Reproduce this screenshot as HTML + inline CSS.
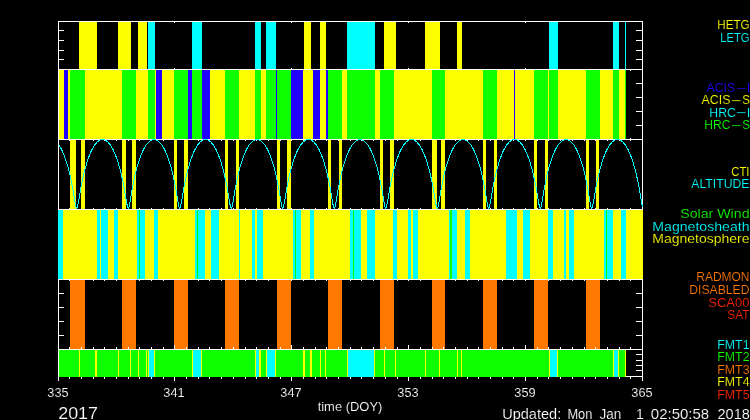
<!DOCTYPE html>
<html><head><meta charset="utf-8"><title>Chandra mission timeline</title>
<style>
html,body{margin:0;padding:0;background:#000;}
body{width:750px;height:420px;overflow:hidden;}
svg{display:block;font-family:"Liberation Sans",sans-serif;}
</style></head><body>
<svg width="750" height="420" viewBox="0 0 750 420">
<rect x="0" y="0" width="750" height="420" fill="#000"/>
<g shape-rendering="crispEdges">
<rect x="58" y="21" width="1" height="360" fill="#ffffff"/>
<rect x="642" y="21" width="1" height="360" fill="#ffffff"/>
<rect x="58" y="21" width="585" height="1" fill="#ffffff"/>
<rect x="58" y="69" width="585" height="1" fill="#ffffff"/>
<rect x="58" y="139" width="585" height="1" fill="#ffffff"/>
<rect x="58" y="209" width="585" height="1" fill="#ffffff"/>
<rect x="58" y="279" width="585" height="1" fill="#ffffff"/>
<rect x="58" y="349" width="585" height="1" fill="#ffffff"/>
<rect x="58" y="376" width="585" height="1" fill="#ffffff"/>
<rect x="59" y="30" width="5" height="1" fill="#ffffff"/>
<rect x="636" y="30" width="6" height="1" fill="#ffffff"/>
<rect x="59" y="40" width="5" height="1" fill="#ffffff"/>
<rect x="636" y="40" width="6" height="1" fill="#ffffff"/>
<rect x="59" y="50" width="5" height="1" fill="#ffffff"/>
<rect x="636" y="50" width="6" height="1" fill="#ffffff"/>
<rect x="59" y="59" width="5" height="1" fill="#ffffff"/>
<rect x="636" y="59" width="6" height="1" fill="#ffffff"/>
<rect x="636" y="83" width="6" height="1" fill="#ffffff"/>
<rect x="636" y="97" width="6" height="1" fill="#ffffff"/>
<rect x="636" y="111" width="6" height="1" fill="#ffffff"/>
<rect x="636" y="125" width="6" height="1" fill="#ffffff"/>
<rect x="59" y="293" width="5" height="1" fill="#ffffff"/>
<rect x="636" y="293" width="6" height="1" fill="#ffffff"/>
<rect x="59" y="307" width="5" height="1" fill="#ffffff"/>
<rect x="636" y="307" width="6" height="1" fill="#ffffff"/>
<rect x="59" y="321" width="5" height="1" fill="#ffffff"/>
<rect x="636" y="321" width="6" height="1" fill="#ffffff"/>
<rect x="59" y="335" width="5" height="1" fill="#ffffff"/>
<rect x="636" y="335" width="6" height="1" fill="#ffffff"/>
<rect x="636" y="354" width="6" height="1" fill="#ffffff"/>
<rect x="636" y="360" width="6" height="1" fill="#ffffff"/>
<rect x="636" y="365" width="6" height="1" fill="#ffffff"/>
<rect x="636" y="370" width="6" height="1" fill="#ffffff"/>
<rect x="174" y="22" width="1" height="1" fill="#ffffff"/>
<rect x="174" y="68" width="1" height="1" fill="#ffffff"/>
<rect x="291" y="22" width="1" height="1" fill="#ffffff"/>
<rect x="291" y="68" width="1" height="1" fill="#ffffff"/>
<rect x="408" y="22" width="1" height="1" fill="#ffffff"/>
<rect x="408" y="68" width="1" height="1" fill="#ffffff"/>
<rect x="525" y="22" width="1" height="1" fill="#ffffff"/>
<rect x="525" y="68" width="1" height="1" fill="#ffffff"/>
<rect x="69" y="70" width="1" height="1" fill="#ffffff"/>
<rect x="69" y="138" width="1" height="1" fill="#ffffff"/>
<rect x="69" y="140" width="1" height="1" fill="#ffffff"/>
<rect x="69" y="208" width="1" height="1" fill="#ffffff"/>
<rect x="69" y="280" width="1" height="1" fill="#ffffff"/>
<rect x="69" y="377" width="1" height="2" fill="#ffffff"/>
<rect x="81" y="70" width="1" height="1" fill="#ffffff"/>
<rect x="81" y="138" width="1" height="1" fill="#ffffff"/>
<rect x="81" y="140" width="1" height="1" fill="#ffffff"/>
<rect x="81" y="208" width="1" height="1" fill="#ffffff"/>
<rect x="81" y="280" width="1" height="1" fill="#ffffff"/>
<rect x="81" y="377" width="1" height="2" fill="#ffffff"/>
<rect x="93" y="70" width="1" height="1" fill="#ffffff"/>
<rect x="93" y="138" width="1" height="1" fill="#ffffff"/>
<rect x="93" y="140" width="1" height="1" fill="#ffffff"/>
<rect x="93" y="208" width="1" height="1" fill="#ffffff"/>
<rect x="93" y="280" width="1" height="1" fill="#ffffff"/>
<rect x="93" y="377" width="1" height="2" fill="#ffffff"/>
<rect x="104" y="70" width="1" height="1" fill="#ffffff"/>
<rect x="104" y="138" width="1" height="1" fill="#ffffff"/>
<rect x="104" y="140" width="1" height="1" fill="#ffffff"/>
<rect x="104" y="208" width="1" height="1" fill="#ffffff"/>
<rect x="104" y="280" width="1" height="1" fill="#ffffff"/>
<rect x="104" y="377" width="1" height="2" fill="#ffffff"/>
<rect x="116" y="70" width="1" height="1" fill="#ffffff"/>
<rect x="116" y="138" width="1" height="1" fill="#ffffff"/>
<rect x="116" y="140" width="1" height="1" fill="#ffffff"/>
<rect x="116" y="208" width="1" height="1" fill="#ffffff"/>
<rect x="116" y="280" width="1" height="1" fill="#ffffff"/>
<rect x="116" y="377" width="1" height="2" fill="#ffffff"/>
<rect x="128" y="70" width="1" height="1" fill="#ffffff"/>
<rect x="128" y="138" width="1" height="1" fill="#ffffff"/>
<rect x="128" y="140" width="1" height="1" fill="#ffffff"/>
<rect x="128" y="208" width="1" height="1" fill="#ffffff"/>
<rect x="128" y="280" width="1" height="1" fill="#ffffff"/>
<rect x="128" y="377" width="1" height="2" fill="#ffffff"/>
<rect x="139" y="70" width="1" height="1" fill="#ffffff"/>
<rect x="139" y="138" width="1" height="1" fill="#ffffff"/>
<rect x="139" y="140" width="1" height="1" fill="#ffffff"/>
<rect x="139" y="208" width="1" height="1" fill="#ffffff"/>
<rect x="139" y="280" width="1" height="1" fill="#ffffff"/>
<rect x="139" y="377" width="1" height="2" fill="#ffffff"/>
<rect x="151" y="70" width="1" height="1" fill="#ffffff"/>
<rect x="151" y="138" width="1" height="1" fill="#ffffff"/>
<rect x="151" y="140" width="1" height="1" fill="#ffffff"/>
<rect x="151" y="208" width="1" height="1" fill="#ffffff"/>
<rect x="151" y="280" width="1" height="1" fill="#ffffff"/>
<rect x="151" y="377" width="1" height="2" fill="#ffffff"/>
<rect x="163" y="70" width="1" height="1" fill="#ffffff"/>
<rect x="163" y="138" width="1" height="1" fill="#ffffff"/>
<rect x="163" y="140" width="1" height="1" fill="#ffffff"/>
<rect x="163" y="208" width="1" height="1" fill="#ffffff"/>
<rect x="163" y="280" width="1" height="1" fill="#ffffff"/>
<rect x="163" y="377" width="1" height="2" fill="#ffffff"/>
<rect x="174" y="70" width="1" height="1" fill="#ffffff"/>
<rect x="174" y="138" width="1" height="1" fill="#ffffff"/>
<rect x="174" y="140" width="1" height="1" fill="#ffffff"/>
<rect x="174" y="208" width="1" height="1" fill="#ffffff"/>
<rect x="174" y="280" width="1" height="1" fill="#ffffff"/>
<rect x="186" y="70" width="1" height="1" fill="#ffffff"/>
<rect x="186" y="138" width="1" height="1" fill="#ffffff"/>
<rect x="186" y="140" width="1" height="1" fill="#ffffff"/>
<rect x="186" y="208" width="1" height="1" fill="#ffffff"/>
<rect x="186" y="280" width="1" height="1" fill="#ffffff"/>
<rect x="186" y="377" width="1" height="2" fill="#ffffff"/>
<rect x="198" y="70" width="1" height="1" fill="#ffffff"/>
<rect x="198" y="138" width="1" height="1" fill="#ffffff"/>
<rect x="198" y="140" width="1" height="1" fill="#ffffff"/>
<rect x="198" y="208" width="1" height="1" fill="#ffffff"/>
<rect x="198" y="280" width="1" height="1" fill="#ffffff"/>
<rect x="198" y="377" width="1" height="2" fill="#ffffff"/>
<rect x="209" y="70" width="1" height="1" fill="#ffffff"/>
<rect x="209" y="138" width="1" height="1" fill="#ffffff"/>
<rect x="209" y="140" width="1" height="1" fill="#ffffff"/>
<rect x="209" y="208" width="1" height="1" fill="#ffffff"/>
<rect x="209" y="280" width="1" height="1" fill="#ffffff"/>
<rect x="209" y="377" width="1" height="2" fill="#ffffff"/>
<rect x="221" y="70" width="1" height="1" fill="#ffffff"/>
<rect x="221" y="138" width="1" height="1" fill="#ffffff"/>
<rect x="221" y="140" width="1" height="1" fill="#ffffff"/>
<rect x="221" y="208" width="1" height="1" fill="#ffffff"/>
<rect x="221" y="280" width="1" height="1" fill="#ffffff"/>
<rect x="221" y="377" width="1" height="2" fill="#ffffff"/>
<rect x="233" y="70" width="1" height="1" fill="#ffffff"/>
<rect x="233" y="138" width="1" height="1" fill="#ffffff"/>
<rect x="233" y="140" width="1" height="1" fill="#ffffff"/>
<rect x="233" y="208" width="1" height="1" fill="#ffffff"/>
<rect x="233" y="280" width="1" height="1" fill="#ffffff"/>
<rect x="233" y="377" width="1" height="2" fill="#ffffff"/>
<rect x="245" y="70" width="1" height="1" fill="#ffffff"/>
<rect x="245" y="138" width="1" height="1" fill="#ffffff"/>
<rect x="245" y="140" width="1" height="1" fill="#ffffff"/>
<rect x="245" y="208" width="1" height="1" fill="#ffffff"/>
<rect x="245" y="280" width="1" height="1" fill="#ffffff"/>
<rect x="245" y="377" width="1" height="2" fill="#ffffff"/>
<rect x="256" y="70" width="1" height="1" fill="#ffffff"/>
<rect x="256" y="138" width="1" height="1" fill="#ffffff"/>
<rect x="256" y="140" width="1" height="1" fill="#ffffff"/>
<rect x="256" y="208" width="1" height="1" fill="#ffffff"/>
<rect x="256" y="280" width="1" height="1" fill="#ffffff"/>
<rect x="256" y="377" width="1" height="2" fill="#ffffff"/>
<rect x="268" y="70" width="1" height="1" fill="#ffffff"/>
<rect x="268" y="138" width="1" height="1" fill="#ffffff"/>
<rect x="268" y="140" width="1" height="1" fill="#ffffff"/>
<rect x="268" y="208" width="1" height="1" fill="#ffffff"/>
<rect x="268" y="280" width="1" height="1" fill="#ffffff"/>
<rect x="268" y="377" width="1" height="2" fill="#ffffff"/>
<rect x="280" y="70" width="1" height="1" fill="#ffffff"/>
<rect x="280" y="138" width="1" height="1" fill="#ffffff"/>
<rect x="280" y="140" width="1" height="1" fill="#ffffff"/>
<rect x="280" y="208" width="1" height="1" fill="#ffffff"/>
<rect x="280" y="280" width="1" height="1" fill="#ffffff"/>
<rect x="280" y="377" width="1" height="2" fill="#ffffff"/>
<rect x="291" y="70" width="1" height="1" fill="#ffffff"/>
<rect x="291" y="138" width="1" height="1" fill="#ffffff"/>
<rect x="291" y="140" width="1" height="1" fill="#ffffff"/>
<rect x="291" y="208" width="1" height="1" fill="#ffffff"/>
<rect x="291" y="280" width="1" height="1" fill="#ffffff"/>
<rect x="303" y="70" width="1" height="1" fill="#ffffff"/>
<rect x="303" y="138" width="1" height="1" fill="#ffffff"/>
<rect x="303" y="140" width="1" height="1" fill="#ffffff"/>
<rect x="303" y="208" width="1" height="1" fill="#ffffff"/>
<rect x="303" y="280" width="1" height="1" fill="#ffffff"/>
<rect x="303" y="377" width="1" height="2" fill="#ffffff"/>
<rect x="315" y="70" width="1" height="1" fill="#ffffff"/>
<rect x="315" y="138" width="1" height="1" fill="#ffffff"/>
<rect x="315" y="140" width="1" height="1" fill="#ffffff"/>
<rect x="315" y="208" width="1" height="1" fill="#ffffff"/>
<rect x="315" y="280" width="1" height="1" fill="#ffffff"/>
<rect x="315" y="377" width="1" height="2" fill="#ffffff"/>
<rect x="326" y="70" width="1" height="1" fill="#ffffff"/>
<rect x="326" y="138" width="1" height="1" fill="#ffffff"/>
<rect x="326" y="140" width="1" height="1" fill="#ffffff"/>
<rect x="326" y="208" width="1" height="1" fill="#ffffff"/>
<rect x="326" y="280" width="1" height="1" fill="#ffffff"/>
<rect x="326" y="377" width="1" height="2" fill="#ffffff"/>
<rect x="338" y="70" width="1" height="1" fill="#ffffff"/>
<rect x="338" y="138" width="1" height="1" fill="#ffffff"/>
<rect x="338" y="140" width="1" height="1" fill="#ffffff"/>
<rect x="338" y="208" width="1" height="1" fill="#ffffff"/>
<rect x="338" y="280" width="1" height="1" fill="#ffffff"/>
<rect x="338" y="377" width="1" height="2" fill="#ffffff"/>
<rect x="350" y="70" width="1" height="1" fill="#ffffff"/>
<rect x="350" y="138" width="1" height="1" fill="#ffffff"/>
<rect x="350" y="140" width="1" height="1" fill="#ffffff"/>
<rect x="350" y="208" width="1" height="1" fill="#ffffff"/>
<rect x="350" y="280" width="1" height="1" fill="#ffffff"/>
<rect x="350" y="377" width="1" height="2" fill="#ffffff"/>
<rect x="361" y="70" width="1" height="1" fill="#ffffff"/>
<rect x="361" y="138" width="1" height="1" fill="#ffffff"/>
<rect x="361" y="140" width="1" height="1" fill="#ffffff"/>
<rect x="361" y="208" width="1" height="1" fill="#ffffff"/>
<rect x="361" y="280" width="1" height="1" fill="#ffffff"/>
<rect x="361" y="377" width="1" height="2" fill="#ffffff"/>
<rect x="373" y="70" width="1" height="1" fill="#ffffff"/>
<rect x="373" y="138" width="1" height="1" fill="#ffffff"/>
<rect x="373" y="140" width="1" height="1" fill="#ffffff"/>
<rect x="373" y="208" width="1" height="1" fill="#ffffff"/>
<rect x="373" y="280" width="1" height="1" fill="#ffffff"/>
<rect x="373" y="377" width="1" height="2" fill="#ffffff"/>
<rect x="385" y="70" width="1" height="1" fill="#ffffff"/>
<rect x="385" y="138" width="1" height="1" fill="#ffffff"/>
<rect x="385" y="140" width="1" height="1" fill="#ffffff"/>
<rect x="385" y="208" width="1" height="1" fill="#ffffff"/>
<rect x="385" y="280" width="1" height="1" fill="#ffffff"/>
<rect x="385" y="377" width="1" height="2" fill="#ffffff"/>
<rect x="397" y="70" width="1" height="1" fill="#ffffff"/>
<rect x="397" y="138" width="1" height="1" fill="#ffffff"/>
<rect x="397" y="140" width="1" height="1" fill="#ffffff"/>
<rect x="397" y="208" width="1" height="1" fill="#ffffff"/>
<rect x="397" y="280" width="1" height="1" fill="#ffffff"/>
<rect x="397" y="377" width="1" height="2" fill="#ffffff"/>
<rect x="408" y="70" width="1" height="1" fill="#ffffff"/>
<rect x="408" y="138" width="1" height="1" fill="#ffffff"/>
<rect x="408" y="140" width="1" height="1" fill="#ffffff"/>
<rect x="408" y="208" width="1" height="1" fill="#ffffff"/>
<rect x="408" y="280" width="1" height="1" fill="#ffffff"/>
<rect x="420" y="70" width="1" height="1" fill="#ffffff"/>
<rect x="420" y="138" width="1" height="1" fill="#ffffff"/>
<rect x="420" y="140" width="1" height="1" fill="#ffffff"/>
<rect x="420" y="208" width="1" height="1" fill="#ffffff"/>
<rect x="420" y="280" width="1" height="1" fill="#ffffff"/>
<rect x="420" y="377" width="1" height="2" fill="#ffffff"/>
<rect x="432" y="70" width="1" height="1" fill="#ffffff"/>
<rect x="432" y="138" width="1" height="1" fill="#ffffff"/>
<rect x="432" y="140" width="1" height="1" fill="#ffffff"/>
<rect x="432" y="208" width="1" height="1" fill="#ffffff"/>
<rect x="432" y="280" width="1" height="1" fill="#ffffff"/>
<rect x="432" y="377" width="1" height="2" fill="#ffffff"/>
<rect x="443" y="70" width="1" height="1" fill="#ffffff"/>
<rect x="443" y="138" width="1" height="1" fill="#ffffff"/>
<rect x="443" y="140" width="1" height="1" fill="#ffffff"/>
<rect x="443" y="208" width="1" height="1" fill="#ffffff"/>
<rect x="443" y="280" width="1" height="1" fill="#ffffff"/>
<rect x="443" y="377" width="1" height="2" fill="#ffffff"/>
<rect x="455" y="70" width="1" height="1" fill="#ffffff"/>
<rect x="455" y="138" width="1" height="1" fill="#ffffff"/>
<rect x="455" y="140" width="1" height="1" fill="#ffffff"/>
<rect x="455" y="208" width="1" height="1" fill="#ffffff"/>
<rect x="455" y="280" width="1" height="1" fill="#ffffff"/>
<rect x="455" y="377" width="1" height="2" fill="#ffffff"/>
<rect x="467" y="70" width="1" height="1" fill="#ffffff"/>
<rect x="467" y="138" width="1" height="1" fill="#ffffff"/>
<rect x="467" y="140" width="1" height="1" fill="#ffffff"/>
<rect x="467" y="208" width="1" height="1" fill="#ffffff"/>
<rect x="467" y="280" width="1" height="1" fill="#ffffff"/>
<rect x="467" y="377" width="1" height="2" fill="#ffffff"/>
<rect x="478" y="70" width="1" height="1" fill="#ffffff"/>
<rect x="478" y="138" width="1" height="1" fill="#ffffff"/>
<rect x="478" y="140" width="1" height="1" fill="#ffffff"/>
<rect x="478" y="208" width="1" height="1" fill="#ffffff"/>
<rect x="478" y="280" width="1" height="1" fill="#ffffff"/>
<rect x="478" y="377" width="1" height="2" fill="#ffffff"/>
<rect x="490" y="70" width="1" height="1" fill="#ffffff"/>
<rect x="490" y="138" width="1" height="1" fill="#ffffff"/>
<rect x="490" y="140" width="1" height="1" fill="#ffffff"/>
<rect x="490" y="208" width="1" height="1" fill="#ffffff"/>
<rect x="490" y="280" width="1" height="1" fill="#ffffff"/>
<rect x="490" y="377" width="1" height="2" fill="#ffffff"/>
<rect x="502" y="70" width="1" height="1" fill="#ffffff"/>
<rect x="502" y="138" width="1" height="1" fill="#ffffff"/>
<rect x="502" y="140" width="1" height="1" fill="#ffffff"/>
<rect x="502" y="208" width="1" height="1" fill="#ffffff"/>
<rect x="502" y="280" width="1" height="1" fill="#ffffff"/>
<rect x="502" y="377" width="1" height="2" fill="#ffffff"/>
<rect x="513" y="70" width="1" height="1" fill="#ffffff"/>
<rect x="513" y="138" width="1" height="1" fill="#ffffff"/>
<rect x="513" y="140" width="1" height="1" fill="#ffffff"/>
<rect x="513" y="208" width="1" height="1" fill="#ffffff"/>
<rect x="513" y="280" width="1" height="1" fill="#ffffff"/>
<rect x="513" y="377" width="1" height="2" fill="#ffffff"/>
<rect x="525" y="70" width="1" height="1" fill="#ffffff"/>
<rect x="525" y="138" width="1" height="1" fill="#ffffff"/>
<rect x="525" y="140" width="1" height="1" fill="#ffffff"/>
<rect x="525" y="208" width="1" height="1" fill="#ffffff"/>
<rect x="525" y="280" width="1" height="1" fill="#ffffff"/>
<rect x="537" y="70" width="1" height="1" fill="#ffffff"/>
<rect x="537" y="138" width="1" height="1" fill="#ffffff"/>
<rect x="537" y="140" width="1" height="1" fill="#ffffff"/>
<rect x="537" y="208" width="1" height="1" fill="#ffffff"/>
<rect x="537" y="280" width="1" height="1" fill="#ffffff"/>
<rect x="537" y="377" width="1" height="2" fill="#ffffff"/>
<rect x="548" y="70" width="1" height="1" fill="#ffffff"/>
<rect x="548" y="138" width="1" height="1" fill="#ffffff"/>
<rect x="548" y="140" width="1" height="1" fill="#ffffff"/>
<rect x="548" y="208" width="1" height="1" fill="#ffffff"/>
<rect x="548" y="280" width="1" height="1" fill="#ffffff"/>
<rect x="548" y="377" width="1" height="2" fill="#ffffff"/>
<rect x="560" y="70" width="1" height="1" fill="#ffffff"/>
<rect x="560" y="138" width="1" height="1" fill="#ffffff"/>
<rect x="560" y="140" width="1" height="1" fill="#ffffff"/>
<rect x="560" y="208" width="1" height="1" fill="#ffffff"/>
<rect x="560" y="280" width="1" height="1" fill="#ffffff"/>
<rect x="560" y="377" width="1" height="2" fill="#ffffff"/>
<rect x="572" y="70" width="1" height="1" fill="#ffffff"/>
<rect x="572" y="138" width="1" height="1" fill="#ffffff"/>
<rect x="572" y="140" width="1" height="1" fill="#ffffff"/>
<rect x="572" y="208" width="1" height="1" fill="#ffffff"/>
<rect x="572" y="280" width="1" height="1" fill="#ffffff"/>
<rect x="572" y="377" width="1" height="2" fill="#ffffff"/>
<rect x="584" y="70" width="1" height="1" fill="#ffffff"/>
<rect x="584" y="138" width="1" height="1" fill="#ffffff"/>
<rect x="584" y="140" width="1" height="1" fill="#ffffff"/>
<rect x="584" y="208" width="1" height="1" fill="#ffffff"/>
<rect x="584" y="280" width="1" height="1" fill="#ffffff"/>
<rect x="584" y="377" width="1" height="2" fill="#ffffff"/>
<rect x="595" y="70" width="1" height="1" fill="#ffffff"/>
<rect x="595" y="138" width="1" height="1" fill="#ffffff"/>
<rect x="595" y="140" width="1" height="1" fill="#ffffff"/>
<rect x="595" y="208" width="1" height="1" fill="#ffffff"/>
<rect x="595" y="280" width="1" height="1" fill="#ffffff"/>
<rect x="595" y="377" width="1" height="2" fill="#ffffff"/>
<rect x="607" y="70" width="1" height="1" fill="#ffffff"/>
<rect x="607" y="138" width="1" height="1" fill="#ffffff"/>
<rect x="607" y="140" width="1" height="1" fill="#ffffff"/>
<rect x="607" y="208" width="1" height="1" fill="#ffffff"/>
<rect x="607" y="280" width="1" height="1" fill="#ffffff"/>
<rect x="607" y="377" width="1" height="2" fill="#ffffff"/>
<rect x="619" y="70" width="1" height="1" fill="#ffffff"/>
<rect x="619" y="138" width="1" height="1" fill="#ffffff"/>
<rect x="619" y="140" width="1" height="1" fill="#ffffff"/>
<rect x="619" y="208" width="1" height="1" fill="#ffffff"/>
<rect x="619" y="280" width="1" height="1" fill="#ffffff"/>
<rect x="619" y="377" width="1" height="2" fill="#ffffff"/>
<rect x="630" y="70" width="1" height="1" fill="#ffffff"/>
<rect x="630" y="138" width="1" height="1" fill="#ffffff"/>
<rect x="630" y="140" width="1" height="1" fill="#ffffff"/>
<rect x="630" y="208" width="1" height="1" fill="#ffffff"/>
<rect x="630" y="280" width="1" height="1" fill="#ffffff"/>
<rect x="630" y="377" width="1" height="2" fill="#ffffff"/>
<rect x="174" y="377" width="1" height="4" fill="#ffffff"/>
<rect x="291" y="377" width="1" height="4" fill="#ffffff"/>
<rect x="408" y="377" width="1" height="4" fill="#ffffff"/>
<rect x="525" y="377" width="1" height="4" fill="#ffffff"/>
<rect x="79" y="22" width="18" height="47" fill="#fcff00"/>
<rect x="118" y="22" width="13" height="47" fill="#fcff00"/>
<rect x="138" y="22" width="9" height="47" fill="#fcff00"/>
<rect x="304" y="22" width="7" height="47" fill="#fcff00"/>
<rect x="320" y="22" width="6" height="47" fill="#fcff00"/>
<rect x="384" y="22" width="12" height="47" fill="#fcff00"/>
<rect x="425" y="22" width="15" height="47" fill="#fcff00"/>
<rect x="457" y="22" width="5" height="47" fill="#fcff00"/>
<rect x="148" y="22" width="7" height="47" fill="#00ffff"/>
<rect x="192" y="22" width="10" height="47" fill="#00ffff"/>
<rect x="255" y="22" width="6" height="47" fill="#00ffff"/>
<rect x="266" y="22" width="10" height="47" fill="#00ffff"/>
<rect x="347" y="22" width="28" height="47" fill="#00ffff"/>
<rect x="549" y="22" width="9" height="47" fill="#00ffff"/>
<rect x="613" y="22" width="6" height="47" fill="#00ffff"/>
<rect x="625" y="22" width="1" height="47" fill="#00ffff"/>
<rect x="59" y="70" width="5" height="69" fill="#fcff00"/>
<rect x="64" y="70" width="4" height="69" fill="#2200ff"/>
<rect x="68" y="70" width="2" height="69" fill="#fcff00"/>
<rect x="70" y="70" width="15" height="69" fill="#10ff00"/>
<rect x="85" y="70" width="37" height="69" fill="#fcff00"/>
<rect x="122" y="70" width="14" height="69" fill="#10ff00"/>
<rect x="136" y="70" width="12" height="69" fill="#fcff00"/>
<rect x="148" y="70" width="7" height="69" fill="#10ff00"/>
<rect x="155" y="70" width="1" height="69" fill="#fcff00"/>
<rect x="156" y="70" width="6" height="69" fill="#2200ff"/>
<rect x="162" y="70" width="12" height="69" fill="#fcff00"/>
<rect x="174" y="70" width="14" height="69" fill="#10ff00"/>
<rect x="188" y="70" width="4" height="69" fill="#2200ff"/>
<rect x="192" y="70" width="10" height="69" fill="#10ff00"/>
<rect x="202" y="70" width="8" height="69" fill="#2200ff"/>
<rect x="210" y="70" width="15" height="69" fill="#fcff00"/>
<rect x="225" y="70" width="14" height="69" fill="#10ff00"/>
<rect x="239" y="70" width="16" height="69" fill="#fcff00"/>
<rect x="255" y="70" width="6" height="69" fill="#10ff00"/>
<rect x="261" y="70" width="5" height="69" fill="#fcff00"/>
<rect x="266" y="70" width="10" height="69" fill="#10ff00"/>
<rect x="276" y="70" width="1" height="69" fill="#2200ff"/>
<rect x="277" y="70" width="14" height="69" fill="#10ff00"/>
<rect x="291" y="70" width="12" height="69" fill="#2200ff"/>
<rect x="303" y="70" width="10" height="69" fill="#fcff00"/>
<rect x="313" y="70" width="7" height="69" fill="#2200ff"/>
<rect x="320" y="70" width="6" height="69" fill="#fcff00"/>
<rect x="326" y="70" width="2" height="69" fill="#2200ff"/>
<rect x="328" y="70" width="14" height="69" fill="#10ff00"/>
<rect x="342" y="70" width="5" height="69" fill="#fcff00"/>
<rect x="347" y="70" width="28" height="69" fill="#10ff00"/>
<rect x="375" y="70" width="5" height="69" fill="#fcff00"/>
<rect x="380" y="70" width="14" height="69" fill="#10ff00"/>
<rect x="394" y="70" width="38" height="69" fill="#fcff00"/>
<rect x="432" y="70" width="13" height="69" fill="#10ff00"/>
<rect x="445" y="70" width="38" height="69" fill="#fcff00"/>
<rect x="483" y="70" width="14" height="69" fill="#10ff00"/>
<rect x="497" y="70" width="17" height="69" fill="#fcff00"/>
<rect x="514" y="70" width="1" height="69" fill="#2200ff"/>
<rect x="515" y="70" width="19" height="69" fill="#fcff00"/>
<rect x="534" y="70" width="14" height="69" fill="#10ff00"/>
<rect x="548" y="70" width="1" height="69" fill="#fcff00"/>
<rect x="549" y="70" width="9" height="69" fill="#10ff00"/>
<rect x="558" y="70" width="28" height="69" fill="#fcff00"/>
<rect x="586" y="70" width="14" height="69" fill="#10ff00"/>
<rect x="600" y="70" width="13" height="69" fill="#fcff00"/>
<rect x="613" y="70" width="6" height="69" fill="#10ff00"/>
<rect x="619" y="70" width="6" height="69" fill="#fcff00"/>
<rect x="625" y="70" width="1" height="69" fill="#10ff00"/>
<rect x="70" y="140" width="6" height="69" fill="#fcff00"/>
<rect x="81" y="140" width="4" height="69" fill="#fcff00"/>
<rect x="122" y="140" width="4" height="69" fill="#fcff00"/>
<rect x="132" y="140" width="4" height="69" fill="#fcff00"/>
<rect x="174" y="140" width="3" height="69" fill="#fcff00"/>
<rect x="184" y="140" width="4" height="69" fill="#fcff00"/>
<rect x="225" y="140" width="3" height="69" fill="#fcff00"/>
<rect x="236" y="140" width="3" height="69" fill="#fcff00"/>
<rect x="277" y="140" width="3" height="69" fill="#fcff00"/>
<rect x="287" y="140" width="4" height="69" fill="#fcff00"/>
<rect x="328" y="140" width="3" height="69" fill="#fcff00"/>
<rect x="339" y="140" width="3" height="69" fill="#fcff00"/>
<rect x="380" y="140" width="3" height="69" fill="#fcff00"/>
<rect x="390" y="140" width="4" height="69" fill="#fcff00"/>
<rect x="432" y="140" width="5" height="69" fill="#fcff00"/>
<rect x="441" y="140" width="4" height="69" fill="#fcff00"/>
<rect x="483" y="140" width="3" height="69" fill="#fcff00"/>
<rect x="494" y="140" width="3" height="69" fill="#fcff00"/>
<rect x="534" y="140" width="3" height="69" fill="#fcff00"/>
<rect x="545" y="140" width="3" height="69" fill="#fcff00"/>
<rect x="586" y="140" width="3" height="69" fill="#fcff00"/>
<rect x="596" y="140" width="3" height="69" fill="#fcff00"/>
<rect x="58" y="210" width="5" height="69" fill="#00ffff"/>
<rect x="63" y="210" width="34" height="69" fill="#fcff00"/>
<rect x="97" y="210" width="3" height="69" fill="#00ffff"/>
<rect x="100" y="210" width="1" height="69" fill="#fcff00"/>
<rect x="101" y="210" width="7" height="69" fill="#00ffff"/>
<rect x="108" y="210" width="6" height="69" fill="#fcff00"/>
<rect x="114" y="210" width="4" height="69" fill="#00ffff"/>
<rect x="118" y="210" width="19" height="69" fill="#fcff00"/>
<rect x="137" y="210" width="2" height="69" fill="#00ffff"/>
<rect x="139" y="210" width="1" height="69" fill="#10ff00"/>
<rect x="140" y="210" width="5" height="69" fill="#00ffff"/>
<rect x="145" y="210" width="9" height="69" fill="#fcff00"/>
<rect x="154" y="210" width="4" height="69" fill="#00ffff"/>
<rect x="158" y="210" width="37" height="69" fill="#fcff00"/>
<rect x="195" y="210" width="2" height="69" fill="#00ffff"/>
<rect x="197" y="210" width="1" height="69" fill="#10ff00"/>
<rect x="198" y="210" width="7" height="69" fill="#00ffff"/>
<rect x="205" y="210" width="6" height="69" fill="#fcff00"/>
<rect x="211" y="210" width="8" height="69" fill="#00ffff"/>
<rect x="219" y="210" width="20" height="69" fill="#fcff00"/>
<rect x="239" y="210" width="1" height="69" fill="#00ffff"/>
<rect x="240" y="210" width="12" height="69" fill="#fcff00"/>
<rect x="252" y="210" width="3" height="69" fill="#00ffff"/>
<rect x="255" y="210" width="2" height="69" fill="#fcff00"/>
<rect x="257" y="210" width="6" height="69" fill="#00ffff"/>
<rect x="263" y="210" width="30" height="69" fill="#fcff00"/>
<rect x="293" y="210" width="2" height="69" fill="#00ffff"/>
<rect x="295" y="210" width="1" height="69" fill="#10ff00"/>
<rect x="296" y="210" width="5" height="69" fill="#00ffff"/>
<rect x="301" y="210" width="9" height="69" fill="#fcff00"/>
<rect x="310" y="210" width="4" height="69" fill="#00ffff"/>
<rect x="314" y="210" width="36" height="69" fill="#fcff00"/>
<rect x="350" y="210" width="3" height="69" fill="#00ffff"/>
<rect x="353" y="210" width="1" height="69" fill="#10ff00"/>
<rect x="354" y="210" width="7" height="69" fill="#00ffff"/>
<rect x="361" y="210" width="6" height="69" fill="#fcff00"/>
<rect x="367" y="210" width="8" height="69" fill="#00ffff"/>
<rect x="375" y="210" width="18" height="69" fill="#fcff00"/>
<rect x="393" y="210" width="4" height="69" fill="#00ffff"/>
<rect x="397" y="210" width="11" height="69" fill="#fcff00"/>
<rect x="408" y="210" width="3" height="69" fill="#00ffff"/>
<rect x="411" y="210" width="2" height="69" fill="#fcff00"/>
<rect x="413" y="210" width="5" height="69" fill="#00ffff"/>
<rect x="418" y="210" width="31" height="69" fill="#fcff00"/>
<rect x="449" y="210" width="1" height="69" fill="#00ffff"/>
<rect x="450" y="210" width="2" height="69" fill="#10ff00"/>
<rect x="452" y="210" width="5" height="69" fill="#00ffff"/>
<rect x="457" y="210" width="8" height="69" fill="#fcff00"/>
<rect x="465" y="210" width="5" height="69" fill="#00ffff"/>
<rect x="470" y="210" width="36" height="69" fill="#fcff00"/>
<rect x="506" y="210" width="11" height="69" fill="#00ffff"/>
<rect x="517" y="210" width="6" height="69" fill="#fcff00"/>
<rect x="523" y="210" width="7" height="69" fill="#00ffff"/>
<rect x="530" y="210" width="18" height="69" fill="#fcff00"/>
<rect x="548" y="210" width="5" height="69" fill="#00ffff"/>
<rect x="553" y="210" width="11" height="69" fill="#fcff00"/>
<rect x="564" y="210" width="2" height="69" fill="#00ffff"/>
<rect x="566" y="210" width="3" height="69" fill="#fcff00"/>
<rect x="569" y="210" width="5" height="69" fill="#00ffff"/>
<rect x="574" y="210" width="30" height="69" fill="#fcff00"/>
<rect x="604" y="210" width="2" height="69" fill="#00ffff"/>
<rect x="606" y="210" width="1" height="69" fill="#10ff00"/>
<rect x="607" y="210" width="6" height="69" fill="#00ffff"/>
<rect x="613" y="210" width="8" height="69" fill="#fcff00"/>
<rect x="621" y="210" width="5" height="69" fill="#00ffff"/>
<rect x="626" y="210" width="17" height="69" fill="#fcff00"/>
<rect x="70" y="280" width="15" height="69" fill="#ff7800"/>
<rect x="122" y="280" width="14" height="69" fill="#ff7800"/>
<rect x="174" y="280" width="14" height="69" fill="#ff7800"/>
<rect x="225" y="280" width="14" height="69" fill="#ff7800"/>
<rect x="277" y="280" width="14" height="69" fill="#ff7800"/>
<rect x="328" y="280" width="14" height="69" fill="#ff7800"/>
<rect x="380" y="280" width="14" height="69" fill="#ff7800"/>
<rect x="432" y="280" width="13" height="69" fill="#ff7800"/>
<rect x="483" y="280" width="14" height="69" fill="#ff7800"/>
<rect x="534" y="280" width="14" height="69" fill="#ff7800"/>
<rect x="586" y="280" width="14" height="69" fill="#ff7800"/>
<rect x="69" y="347" width="1" height="2" fill="#ffffff"/>
<rect x="81" y="347" width="1" height="2" fill="#ffffff"/>
<rect x="93" y="347" width="1" height="2" fill="#ffffff"/>
<rect x="104" y="347" width="1" height="2" fill="#ffffff"/>
<rect x="116" y="347" width="1" height="2" fill="#ffffff"/>
<rect x="128" y="347" width="1" height="2" fill="#ffffff"/>
<rect x="139" y="347" width="1" height="2" fill="#ffffff"/>
<rect x="151" y="347" width="1" height="2" fill="#ffffff"/>
<rect x="163" y="347" width="1" height="2" fill="#ffffff"/>
<rect x="186" y="347" width="1" height="2" fill="#ffffff"/>
<rect x="198" y="347" width="1" height="2" fill="#ffffff"/>
<rect x="209" y="347" width="1" height="2" fill="#ffffff"/>
<rect x="221" y="347" width="1" height="2" fill="#ffffff"/>
<rect x="233" y="347" width="1" height="2" fill="#ffffff"/>
<rect x="245" y="347" width="1" height="2" fill="#ffffff"/>
<rect x="256" y="347" width="1" height="2" fill="#ffffff"/>
<rect x="268" y="347" width="1" height="2" fill="#ffffff"/>
<rect x="280" y="347" width="1" height="2" fill="#ffffff"/>
<rect x="303" y="347" width="1" height="2" fill="#ffffff"/>
<rect x="315" y="347" width="1" height="2" fill="#ffffff"/>
<rect x="326" y="347" width="1" height="2" fill="#ffffff"/>
<rect x="338" y="347" width="1" height="2" fill="#ffffff"/>
<rect x="350" y="347" width="1" height="2" fill="#ffffff"/>
<rect x="361" y="347" width="1" height="2" fill="#ffffff"/>
<rect x="373" y="347" width="1" height="2" fill="#ffffff"/>
<rect x="385" y="347" width="1" height="2" fill="#ffffff"/>
<rect x="397" y="347" width="1" height="2" fill="#ffffff"/>
<rect x="420" y="347" width="1" height="2" fill="#ffffff"/>
<rect x="432" y="347" width="1" height="2" fill="#ffffff"/>
<rect x="443" y="347" width="1" height="2" fill="#ffffff"/>
<rect x="455" y="347" width="1" height="2" fill="#ffffff"/>
<rect x="467" y="347" width="1" height="2" fill="#ffffff"/>
<rect x="478" y="347" width="1" height="2" fill="#ffffff"/>
<rect x="490" y="347" width="1" height="2" fill="#ffffff"/>
<rect x="502" y="347" width="1" height="2" fill="#ffffff"/>
<rect x="513" y="347" width="1" height="2" fill="#ffffff"/>
<rect x="537" y="347" width="1" height="2" fill="#ffffff"/>
<rect x="548" y="347" width="1" height="2" fill="#ffffff"/>
<rect x="560" y="347" width="1" height="2" fill="#ffffff"/>
<rect x="572" y="347" width="1" height="2" fill="#ffffff"/>
<rect x="584" y="347" width="1" height="2" fill="#ffffff"/>
<rect x="595" y="347" width="1" height="2" fill="#ffffff"/>
<rect x="607" y="347" width="1" height="2" fill="#ffffff"/>
<rect x="619" y="347" width="1" height="2" fill="#ffffff"/>
<rect x="630" y="347" width="1" height="2" fill="#ffffff"/>
<rect x="174" y="345" width="1" height="4" fill="#ffffff"/>
<rect x="291" y="345" width="1" height="4" fill="#ffffff"/>
<rect x="408" y="345" width="1" height="4" fill="#ffffff"/>
<rect x="525" y="345" width="1" height="4" fill="#ffffff"/>
<rect x="59" y="350" width="567" height="27" fill="#10ff00"/>
<rect x="79" y="350" width="1" height="27" fill="#fcff00"/>
<rect x="95" y="350" width="2" height="27" fill="#fcff00"/>
<rect x="118" y="350" width="1" height="27" fill="#fcff00"/>
<rect x="130" y="350" width="1" height="27" fill="#fcff00"/>
<rect x="138" y="350" width="1" height="27" fill="#fcff00"/>
<rect x="146" y="350" width="1" height="27" fill="#fcff00"/>
<rect x="148" y="350" width="1" height="27" fill="#fcff00"/>
<rect x="154" y="350" width="1" height="27" fill="#fcff00"/>
<rect x="192" y="350" width="1" height="27" fill="#fcff00"/>
<rect x="201" y="350" width="1" height="27" fill="#fcff00"/>
<rect x="255" y="350" width="1" height="27" fill="#fcff00"/>
<rect x="259" y="350" width="2" height="27" fill="#fcff00"/>
<rect x="266" y="350" width="1" height="27" fill="#fcff00"/>
<rect x="275" y="350" width="1" height="27" fill="#fcff00"/>
<rect x="303" y="350" width="2" height="27" fill="#fcff00"/>
<rect x="310" y="350" width="2" height="27" fill="#fcff00"/>
<rect x="320" y="350" width="1" height="27" fill="#fcff00"/>
<rect x="325" y="350" width="1" height="27" fill="#fcff00"/>
<rect x="347" y="350" width="1" height="27" fill="#fcff00"/>
<rect x="374" y="350" width="1" height="27" fill="#fcff00"/>
<rect x="384" y="350" width="1" height="27" fill="#fcff00"/>
<rect x="395" y="350" width="1" height="27" fill="#fcff00"/>
<rect x="425" y="350" width="1" height="27" fill="#fcff00"/>
<rect x="439" y="350" width="1" height="27" fill="#fcff00"/>
<rect x="457" y="350" width="1" height="27" fill="#fcff00"/>
<rect x="461" y="350" width="1" height="27" fill="#fcff00"/>
<rect x="549" y="350" width="1" height="27" fill="#fcff00"/>
<rect x="557" y="350" width="1" height="27" fill="#fcff00"/>
<rect x="613" y="350" width="1" height="27" fill="#fcff00"/>
<rect x="618" y="350" width="1" height="27" fill="#fcff00"/>
<rect x="625" y="350" width="1" height="27" fill="#fcff00"/>
<rect x="149" y="350" width="5" height="27" fill="#00ffff"/>
<rect x="193" y="350" width="8" height="27" fill="#00ffff"/>
<rect x="256" y="350" width="3" height="27" fill="#00ffff"/>
<rect x="267" y="350" width="8" height="27" fill="#00ffff"/>
<rect x="348" y="350" width="26" height="27" fill="#00ffff"/>
<rect x="550" y="350" width="7" height="27" fill="#00ffff"/>
<rect x="614" y="350" width="4" height="27" fill="#00ffff"/>
<polyline fill="none" stroke="#00ffff" stroke-width="1" points="58.50,144.61 58.75,144.95 59.00,145.31 59.25,145.68 59.50,146.06 59.75,146.45 60.00,146.86 60.25,147.28 60.50,147.71 60.75,148.16 61.00,148.62 61.25,149.09 61.50,149.57 61.75,150.07 62.00,150.58 62.25,151.11 62.50,151.64 62.75,152.20 63.00,152.76 63.25,153.35 63.50,153.94 63.75,154.55 64.00,155.18 64.25,155.82 64.50,156.47 64.75,157.14 65.00,157.83 65.25,158.53 65.50,159.25 65.75,159.98 66.00,160.74 66.25,161.50 66.50,162.29 66.75,163.09 67.00,163.91 67.25,164.75 67.50,165.61 67.75,166.49 68.00,167.39 68.25,168.30 68.50,169.24 68.75,170.19 69.00,171.17 69.25,172.17 69.50,173.19 69.75,174.23 70.00,175.30 70.25,176.39 70.50,177.50 70.75,178.64 71.00,179.80 71.25,180.99 71.50,182.20 71.75,183.44 72.00,184.71 72.25,186.00 72.50,187.32 72.75,188.67 73.00,190.05 73.25,191.45 73.50,192.87 73.75,194.32 74.00,195.79 74.25,197.27 74.50,198.76 74.75,200.24 75.00,201.71 75.25,203.14 75.50,204.50 75.75,205.74 76.00,206.82 76.25,207.67 76.50,208.21 76.75,208.40 77.00,208.21 77.25,207.67 77.50,206.82 77.75,205.74 78.00,204.50 78.25,203.14 78.50,201.71 78.75,200.24 79.00,198.76 79.25,197.27 79.50,195.79 79.75,194.32 80.00,192.87 80.25,191.45 80.50,190.05 80.75,188.67 81.00,187.32 81.25,186.00 81.50,184.71 81.75,183.44 82.00,182.20 82.25,180.99 82.50,179.80 82.75,178.64 83.00,177.50 83.25,176.39 83.50,175.30 83.75,174.23 84.00,173.19 84.25,172.17 84.50,171.17 84.75,170.19 85.00,169.24 85.25,168.30 85.50,167.39 85.75,166.49 86.00,165.61 86.25,164.75 86.50,163.91 86.75,163.09 87.00,162.29 87.25,161.50 87.50,160.74 87.75,159.98 88.00,159.25 88.25,158.53 88.50,157.83 88.75,157.14 89.00,156.47 89.25,155.82 89.50,155.18 89.75,154.55 90.00,153.94 90.25,153.35 90.50,152.76 90.75,152.20 91.00,151.64 91.25,151.11 91.50,150.58 91.75,150.07 92.00,149.57 92.25,149.09 92.50,148.62 92.75,148.16 93.00,147.71 93.25,147.28 93.50,146.86 93.75,146.45 94.00,146.06 94.25,145.68 94.50,145.31 94.75,144.95 95.00,144.61 95.25,144.27 95.50,143.95 95.75,143.64 96.00,143.34 96.25,143.06 96.50,142.78 96.75,142.52 97.00,142.27 97.25,142.03 97.50,141.80 97.75,141.59 98.00,141.38 98.25,141.19 98.50,141.01 98.75,140.84 99.00,140.68 99.25,140.53 99.50,140.39 99.75,140.26 100.00,140.15 100.25,140.04 100.50,139.95 100.75,139.87 101.00,139.80 101.25,139.74 101.50,139.69 101.75,139.65 102.00,139.62 102.25,139.61 102.50,139.60 102.75,139.61 103.00,139.62 103.25,139.65 103.50,139.69 103.75,139.74 104.00,139.80 104.25,139.87 104.50,139.95 104.75,140.04 105.00,140.15 105.25,140.26 105.50,140.39 105.75,140.53 106.00,140.68 106.25,140.84 106.50,141.01 106.75,141.19 107.00,141.38 107.25,141.59 107.50,141.80 107.75,142.03 108.00,142.27 108.25,142.52 108.50,142.78 108.75,143.06 109.00,143.34 109.25,143.64 109.50,143.95 109.75,144.27 110.00,144.61 110.25,144.95 110.50,145.31 110.75,145.68 111.00,146.06 111.25,146.45 111.50,146.86 111.75,147.28 112.00,147.71 112.25,148.16 112.50,148.62 112.75,149.09 113.00,149.57 113.25,150.07 113.50,150.58 113.75,151.11 114.00,151.64 114.25,152.20 114.50,152.76 114.75,153.35 115.00,153.94 115.25,154.55 115.50,155.18 115.75,155.82 116.00,156.47 116.25,157.14 116.50,157.83 116.75,158.53 117.00,159.25 117.25,159.98 117.50,160.74 117.75,161.50 118.00,162.29 118.25,163.09 118.50,163.91 118.75,164.75 119.00,165.61 119.25,166.49 119.50,167.39 119.75,168.30 120.00,169.24 120.25,170.19 120.50,171.17 120.75,172.17 121.00,173.19 121.25,174.23 121.50,175.30 121.75,176.39 122.00,177.50 122.25,178.64 122.50,179.80 122.75,180.99 123.00,182.20 123.25,183.44 123.50,184.71 123.75,186.00 124.00,187.32 124.25,188.67 124.50,190.05 124.75,191.45 125.00,192.87 125.25,194.32 125.50,195.79 125.75,197.27 126.00,198.76 126.25,200.24 126.50,201.71 126.75,203.14 127.00,204.50 127.25,205.74 127.50,206.82 127.75,207.67 128.00,208.21 128.25,208.40 128.50,208.21 128.75,207.67 129.00,206.82 129.25,205.74 129.50,204.50 129.75,203.14 130.00,201.71 130.25,200.24 130.50,198.76 130.75,197.27 131.00,195.79 131.25,194.32 131.50,192.87 131.75,191.45 132.00,190.05 132.25,188.67 132.50,187.32 132.75,186.00 133.00,184.71 133.25,183.44 133.50,182.20 133.75,180.99 134.00,179.80 134.25,178.64 134.50,177.50 134.75,176.39 135.00,175.30 135.25,174.23 135.50,173.19 135.75,172.17 136.00,171.17 136.25,170.19 136.50,169.24 136.75,168.30 137.00,167.39 137.25,166.49 137.50,165.61 137.75,164.75 138.00,163.91 138.25,163.09 138.50,162.29 138.75,161.50 139.00,160.74 139.25,159.98 139.50,159.25 139.75,158.53 140.00,157.83 140.25,157.14 140.50,156.47 140.75,155.82 141.00,155.18 141.25,154.55 141.50,153.94 141.75,153.35 142.00,152.76 142.25,152.20 142.50,151.64 142.75,151.11 143.00,150.58 143.25,150.07 143.50,149.57 143.75,149.09 144.00,148.62 144.25,148.16 144.50,147.71 144.75,147.28 145.00,146.86 145.25,146.45 145.50,146.06 145.75,145.68 146.00,145.31 146.25,144.95 146.50,144.61 146.75,144.27 147.00,143.95 147.25,143.64 147.50,143.34 147.75,143.06 148.00,142.78 148.25,142.52 148.50,142.27 148.75,142.03 149.00,141.80 149.25,141.59 149.50,141.38 149.75,141.19 150.00,141.01 150.25,140.84 150.50,140.68 150.75,140.53 151.00,140.39 151.25,140.26 151.50,140.15 151.75,140.04 152.00,139.95 152.25,139.87 152.50,139.80 152.75,139.74 153.00,139.69 153.25,139.65 153.50,139.62 153.75,139.61 154.00,139.60 154.25,139.61 154.50,139.62 154.75,139.65 155.00,139.69 155.25,139.74 155.50,139.80 155.75,139.87 156.00,139.95 156.25,140.04 156.50,140.15 156.75,140.26 157.00,140.39 157.25,140.53 157.50,140.68 157.75,140.84 158.00,141.01 158.25,141.19 158.50,141.38 158.75,141.59 159.00,141.80 159.25,142.03 159.50,142.27 159.75,142.52 160.00,142.78 160.25,143.06 160.50,143.34 160.75,143.64 161.00,143.95 161.25,144.27 161.50,144.61 161.75,144.95 162.00,145.31 162.25,145.68 162.50,146.06 162.75,146.45 163.00,146.86 163.25,147.28 163.50,147.71 163.75,148.16 164.00,148.62 164.25,149.09 164.50,149.57 164.75,150.07 165.00,150.58 165.25,151.11 165.50,151.64 165.75,152.20 166.00,152.76 166.25,153.35 166.50,153.94 166.75,154.55 167.00,155.18 167.25,155.82 167.50,156.47 167.75,157.14 168.00,157.83 168.25,158.53 168.50,159.25 168.75,159.98 169.00,160.74 169.25,161.50 169.50,162.29 169.75,163.09 170.00,163.91 170.25,164.75 170.50,165.61 170.75,166.49 171.00,167.39 171.25,168.30 171.50,169.24 171.75,170.19 172.00,171.17 172.25,172.17 172.50,173.19 172.75,174.23 173.00,175.30 173.25,176.39 173.50,177.50 173.75,178.64 174.00,179.80 174.25,180.99 174.50,182.20 174.75,183.44 175.00,184.71 175.25,186.00 175.50,187.32 175.75,188.67 176.00,190.05 176.25,191.45 176.50,192.87 176.75,194.32 177.00,195.79 177.25,197.27 177.50,198.76 177.75,200.24 178.00,201.71 178.25,203.14 178.50,204.50 178.75,205.74 179.00,206.82 179.25,207.67 179.50,208.21 179.75,208.40 180.00,208.21 180.25,207.67 180.50,206.82 180.75,205.74 181.00,204.50 181.25,203.14 181.50,201.71 181.75,200.24 182.00,198.76 182.25,197.27 182.50,195.79 182.75,194.32 183.00,192.87 183.25,191.45 183.50,190.05 183.75,188.67 184.00,187.32 184.25,186.00 184.50,184.71 184.75,183.44 185.00,182.20 185.25,180.99 185.50,179.80 185.75,178.64 186.00,177.50 186.25,176.39 186.50,175.30 186.75,174.23 187.00,173.19 187.25,172.17 187.50,171.17 187.75,170.19 188.00,169.24 188.25,168.30 188.50,167.39 188.75,166.49 189.00,165.61 189.25,164.75 189.50,163.91 189.75,163.09 190.00,162.29 190.25,161.50 190.50,160.74 190.75,159.98 191.00,159.25 191.25,158.53 191.50,157.83 191.75,157.14 192.00,156.47 192.25,155.82 192.50,155.18 192.75,154.55 193.00,153.94 193.25,153.35 193.50,152.76 193.75,152.20 194.00,151.64 194.25,151.11 194.50,150.58 194.75,150.07 195.00,149.57 195.25,149.09 195.50,148.62 195.75,148.16 196.00,147.71 196.25,147.28 196.50,146.86 196.75,146.45 197.00,146.06 197.25,145.68 197.50,145.31 197.75,144.95 198.00,144.61 198.25,144.27 198.50,143.95 198.75,143.64 199.00,143.34 199.25,143.06 199.50,142.78 199.75,142.52 200.00,142.27 200.25,142.03 200.50,141.80 200.75,141.59 201.00,141.38 201.25,141.19 201.50,141.01 201.75,140.84 202.00,140.68 202.25,140.53 202.50,140.39 202.75,140.26 203.00,140.15 203.25,140.04 203.50,139.95 203.75,139.87 204.00,139.80 204.25,139.74 204.50,139.69 204.75,139.65 205.00,139.62 205.25,139.61 205.50,139.60 205.75,139.61 206.00,139.62 206.25,139.65 206.50,139.69 206.75,139.74 207.00,139.80 207.25,139.87 207.50,139.95 207.75,140.04 208.00,140.15 208.25,140.26 208.50,140.39 208.75,140.53 209.00,140.68 209.25,140.84 209.50,141.01 209.75,141.19 210.00,141.38 210.25,141.59 210.50,141.80 210.75,142.03 211.00,142.27 211.25,142.52 211.50,142.78 211.75,143.06 212.00,143.34 212.25,143.64 212.50,143.95 212.75,144.27 213.00,144.61 213.25,144.95 213.50,145.31 213.75,145.68 214.00,146.06 214.25,146.45 214.50,146.86 214.75,147.28 215.00,147.71 215.25,148.16 215.50,148.62 215.75,149.09 216.00,149.57 216.25,150.07 216.50,150.58 216.75,151.11 217.00,151.64 217.25,152.20 217.50,152.76 217.75,153.35 218.00,153.94 218.25,154.55 218.50,155.18 218.75,155.82 219.00,156.47 219.25,157.14 219.50,157.83 219.75,158.53 220.00,159.25 220.25,159.98 220.50,160.74 220.75,161.50 221.00,162.29 221.25,163.09 221.50,163.91 221.75,164.75 222.00,165.61 222.25,166.49 222.50,167.39 222.75,168.30 223.00,169.24 223.25,170.19 223.50,171.17 223.75,172.17 224.00,173.19 224.25,174.23 224.50,175.30 224.75,176.39 225.00,177.50 225.25,178.64 225.50,179.80 225.75,180.99 226.00,182.20 226.25,183.44 226.50,184.71 226.75,186.00 227.00,187.32 227.25,188.67 227.50,190.05 227.75,191.45 228.00,192.87 228.25,194.32 228.50,195.79 228.75,197.27 229.00,198.76 229.25,200.24 229.50,201.71 229.75,203.14 230.00,204.50 230.25,205.74 230.50,206.82 230.75,207.67 231.00,208.21 231.25,208.40 231.50,208.21 231.75,207.67 232.00,206.82 232.25,205.74 232.50,204.50 232.75,203.14 233.00,201.71 233.25,200.24 233.50,198.76 233.75,197.27 234.00,195.79 234.25,194.32 234.50,192.87 234.75,191.45 235.00,190.05 235.25,188.67 235.50,187.32 235.75,186.00 236.00,184.71 236.25,183.44 236.50,182.20 236.75,180.99 237.00,179.80 237.25,178.64 237.50,177.50 237.75,176.39 238.00,175.30 238.25,174.23 238.50,173.19 238.75,172.17 239.00,171.17 239.25,170.19 239.50,169.24 239.75,168.30 240.00,167.39 240.25,166.49 240.50,165.61 240.75,164.75 241.00,163.91 241.25,163.09 241.50,162.29 241.75,161.50 242.00,160.74 242.25,159.98 242.50,159.25 242.75,158.53 243.00,157.83 243.25,157.14 243.50,156.47 243.75,155.82 244.00,155.18 244.25,154.55 244.50,153.94 244.75,153.35 245.00,152.76 245.25,152.20 245.50,151.64 245.75,151.11 246.00,150.58 246.25,150.07 246.50,149.57 246.75,149.09 247.00,148.62 247.25,148.16 247.50,147.71 247.75,147.28 248.00,146.86 248.25,146.45 248.50,146.06 248.75,145.68 249.00,145.31 249.25,144.95 249.50,144.61 249.75,144.27 250.00,143.95 250.25,143.64 250.50,143.34 250.75,143.06 251.00,142.78 251.25,142.52 251.50,142.27 251.75,142.03 252.00,141.80 252.25,141.59 252.50,141.38 252.75,141.19 253.00,141.01 253.25,140.84 253.50,140.68 253.75,140.53 254.00,140.39 254.25,140.26 254.50,140.15 254.75,140.04 255.00,139.95 255.25,139.87 255.50,139.80 255.75,139.74 256.00,139.69 256.25,139.65 256.50,139.62 256.75,139.61 257.00,139.60 257.25,139.61 257.50,139.62 257.75,139.65 258.00,139.69 258.25,139.74 258.50,139.80 258.75,139.87 259.00,139.95 259.25,140.04 259.50,140.15 259.75,140.26 260.00,140.39 260.25,140.53 260.50,140.68 260.75,140.84 261.00,141.01 261.25,141.19 261.50,141.38 261.75,141.59 262.00,141.80 262.25,142.03 262.50,142.27 262.75,142.52 263.00,142.78 263.25,143.06 263.50,143.34 263.75,143.64 264.00,143.95 264.25,144.27 264.50,144.61 264.75,144.95 265.00,145.31 265.25,145.68 265.50,146.06 265.75,146.45 266.00,146.86 266.25,147.28 266.50,147.71 266.75,148.16 267.00,148.62 267.25,149.09 267.50,149.57 267.75,150.07 268.00,150.58 268.25,151.11 268.50,151.64 268.75,152.20 269.00,152.76 269.25,153.35 269.50,153.94 269.75,154.55 270.00,155.18 270.25,155.82 270.50,156.47 270.75,157.14 271.00,157.83 271.25,158.53 271.50,159.25 271.75,159.98 272.00,160.74 272.25,161.50 272.50,162.29 272.75,163.09 273.00,163.91 273.25,164.75 273.50,165.61 273.75,166.49 274.00,167.39 274.25,168.30 274.50,169.24 274.75,170.19 275.00,171.17 275.25,172.17 275.50,173.19 275.75,174.23 276.00,175.30 276.25,176.39 276.50,177.50 276.75,178.64 277.00,179.80 277.25,180.99 277.50,182.20 277.75,183.44 278.00,184.71 278.25,186.00 278.50,187.32 278.75,188.67 279.00,190.05 279.25,191.45 279.50,192.87 279.75,194.32 280.00,195.79 280.25,197.27 280.50,198.76 280.75,200.24 281.00,201.71 281.25,203.14 281.50,204.50 281.75,205.74 282.00,206.82 282.25,207.67 282.50,208.21 282.75,208.40 283.00,208.21 283.25,207.67 283.50,206.82 283.75,205.74 284.00,204.50 284.25,203.14 284.50,201.71 284.75,200.24 285.00,198.76 285.25,197.27 285.50,195.79 285.75,194.32 286.00,192.87 286.25,191.45 286.50,190.05 286.75,188.67 287.00,187.32 287.25,186.00 287.50,184.71 287.75,183.44 288.00,182.20 288.25,180.99 288.50,179.80 288.75,178.64 289.00,177.50 289.25,176.39 289.50,175.30 289.75,174.23 290.00,173.19 290.25,172.17 290.50,171.17 290.75,170.19 291.00,169.24 291.25,168.30 291.50,167.39 291.75,166.49 292.00,165.61 292.25,164.75 292.50,163.91 292.75,163.09 293.00,162.29 293.25,161.50 293.50,160.74 293.75,159.98 294.00,159.25 294.25,158.53 294.50,157.83 294.75,157.14 295.00,156.47 295.25,155.82 295.50,155.18 295.75,154.55 296.00,153.94 296.25,153.35 296.50,152.76 296.75,152.20 297.00,151.64 297.25,151.11 297.50,150.58 297.75,150.07 298.00,149.57 298.25,149.09 298.50,148.62 298.75,148.16 299.00,147.71 299.25,147.28 299.50,146.86 299.75,146.45 300.00,146.06 300.25,145.68 300.50,145.31 300.75,144.95 301.00,144.61 301.25,144.27 301.50,143.95 301.75,143.64 302.00,143.34 302.25,143.06 302.50,142.78 302.75,142.52 303.00,142.27 303.25,142.03 303.50,141.80 303.75,141.59 304.00,141.38 304.25,141.19 304.50,141.01 304.75,140.84 305.00,140.68 305.25,140.53 305.50,140.39 305.75,140.26 306.00,140.15 306.25,140.04 306.50,139.95 306.75,139.87 307.00,139.80 307.25,139.74 307.50,139.69 307.75,139.65 308.00,139.62 308.25,139.61 308.50,139.60 308.75,139.61 309.00,139.62 309.25,139.65 309.50,139.69 309.75,139.74 310.00,139.80 310.25,139.87 310.50,139.95 310.75,140.04 311.00,140.15 311.25,140.26 311.50,140.39 311.75,140.53 312.00,140.68 312.25,140.84 312.50,141.01 312.75,141.19 313.00,141.38 313.25,141.59 313.50,141.80 313.75,142.03 314.00,142.27 314.25,142.52 314.50,142.78 314.75,143.06 315.00,143.34 315.25,143.64 315.50,143.95 315.75,144.27 316.00,144.61 316.25,144.95 316.50,145.31 316.75,145.68 317.00,146.06 317.25,146.45 317.50,146.86 317.75,147.28 318.00,147.71 318.25,148.16 318.50,148.62 318.75,149.09 319.00,149.57 319.25,150.07 319.50,150.58 319.75,151.11 320.00,151.64 320.25,152.20 320.50,152.76 320.75,153.35 321.00,153.94 321.25,154.55 321.50,155.18 321.75,155.82 322.00,156.47 322.25,157.14 322.50,157.83 322.75,158.53 323.00,159.25 323.25,159.98 323.50,160.74 323.75,161.50 324.00,162.29 324.25,163.09 324.50,163.91 324.75,164.75 325.00,165.61 325.25,166.49 325.50,167.39 325.75,168.30 326.00,169.24 326.25,170.19 326.50,171.17 326.75,172.17 327.00,173.19 327.25,174.23 327.50,175.30 327.75,176.39 328.00,177.50 328.25,178.64 328.50,179.80 328.75,180.99 329.00,182.20 329.25,183.44 329.50,184.71 329.75,186.00 330.00,187.32 330.25,188.67 330.50,190.05 330.75,191.45 331.00,192.87 331.25,194.32 331.50,195.79 331.75,197.27 332.00,198.76 332.25,200.24 332.50,201.71 332.75,203.14 333.00,204.50 333.25,205.74 333.50,206.82 333.75,207.67 334.00,208.21 334.25,208.40 334.50,208.21 334.75,207.67 335.00,206.82 335.25,205.74 335.50,204.50 335.75,203.14 336.00,201.71 336.25,200.24 336.50,198.76 336.75,197.27 337.00,195.79 337.25,194.32 337.50,192.87 337.75,191.45 338.00,190.05 338.25,188.67 338.50,187.32 338.75,186.00 339.00,184.71 339.25,183.44 339.50,182.20 339.75,180.99 340.00,179.80 340.25,178.64 340.50,177.50 340.75,176.39 341.00,175.30 341.25,174.23 341.50,173.19 341.75,172.17 342.00,171.17 342.25,170.19 342.50,169.24 342.75,168.30 343.00,167.39 343.25,166.49 343.50,165.61 343.75,164.75 344.00,163.91 344.25,163.09 344.50,162.29 344.75,161.50 345.00,160.74 345.25,159.98 345.50,159.25 345.75,158.53 346.00,157.83 346.25,157.14 346.50,156.47 346.75,155.82 347.00,155.18 347.25,154.55 347.50,153.94 347.75,153.35 348.00,152.76 348.25,152.20 348.50,151.64 348.75,151.11 349.00,150.58 349.25,150.07 349.50,149.57 349.75,149.09 350.00,148.62 350.25,148.16 350.50,147.71 350.75,147.28 351.00,146.86 351.25,146.45 351.50,146.06 351.75,145.68 352.00,145.31 352.25,144.95 352.50,144.61 352.75,144.27 353.00,143.95 353.25,143.64 353.50,143.34 353.75,143.06 354.00,142.78 354.25,142.52 354.50,142.27 354.75,142.03 355.00,141.80 355.25,141.59 355.50,141.38 355.75,141.19 356.00,141.01 356.25,140.84 356.50,140.68 356.75,140.53 357.00,140.39 357.25,140.26 357.50,140.15 357.75,140.04 358.00,139.95 358.25,139.87 358.50,139.80 358.75,139.74 359.00,139.69 359.25,139.65 359.50,139.62 359.75,139.61 360.00,139.60 360.25,139.61 360.50,139.62 360.75,139.65 361.00,139.69 361.25,139.74 361.50,139.80 361.75,139.87 362.00,139.95 362.25,140.04 362.50,140.15 362.75,140.26 363.00,140.39 363.25,140.53 363.50,140.68 363.75,140.84 364.00,141.01 364.25,141.19 364.50,141.38 364.75,141.59 365.00,141.80 365.25,142.03 365.50,142.27 365.75,142.52 366.00,142.78 366.25,143.06 366.50,143.34 366.75,143.64 367.00,143.95 367.25,144.27 367.50,144.61 367.75,144.95 368.00,145.31 368.25,145.68 368.50,146.06 368.75,146.45 369.00,146.86 369.25,147.28 369.50,147.71 369.75,148.16 370.00,148.62 370.25,149.09 370.50,149.57 370.75,150.07 371.00,150.58 371.25,151.11 371.50,151.64 371.75,152.20 372.00,152.76 372.25,153.35 372.50,153.94 372.75,154.55 373.00,155.18 373.25,155.82 373.50,156.47 373.75,157.14 374.00,157.83 374.25,158.53 374.50,159.25 374.75,159.98 375.00,160.74 375.25,161.50 375.50,162.29 375.75,163.09 376.00,163.91 376.25,164.75 376.50,165.61 376.75,166.49 377.00,167.39 377.25,168.30 377.50,169.24 377.75,170.19 378.00,171.17 378.25,172.17 378.50,173.19 378.75,174.23 379.00,175.30 379.25,176.39 379.50,177.50 379.75,178.64 380.00,179.80 380.25,180.99 380.50,182.20 380.75,183.44 381.00,184.71 381.25,186.00 381.50,187.32 381.75,188.67 382.00,190.05 382.25,191.45 382.50,192.87 382.75,194.32 383.00,195.79 383.25,197.27 383.50,198.76 383.75,200.24 384.00,201.71 384.25,203.14 384.50,204.50 384.75,205.74 385.00,206.82 385.25,207.67 385.50,208.21 385.75,208.40 386.00,208.21 386.25,207.67 386.50,206.82 386.75,205.74 387.00,204.50 387.25,203.14 387.50,201.71 387.75,200.24 388.00,198.76 388.25,197.27 388.50,195.79 388.75,194.32 389.00,192.87 389.25,191.45 389.50,190.05 389.75,188.67 390.00,187.32 390.25,186.00 390.50,184.71 390.75,183.44 391.00,182.20 391.25,180.99 391.50,179.80 391.75,178.64 392.00,177.50 392.25,176.39 392.50,175.30 392.75,174.23 393.00,173.19 393.25,172.17 393.50,171.17 393.75,170.19 394.00,169.24 394.25,168.30 394.50,167.39 394.75,166.49 395.00,165.61 395.25,164.75 395.50,163.91 395.75,163.09 396.00,162.29 396.25,161.50 396.50,160.74 396.75,159.98 397.00,159.25 397.25,158.53 397.50,157.83 397.75,157.14 398.00,156.47 398.25,155.82 398.50,155.18 398.75,154.55 399.00,153.94 399.25,153.35 399.50,152.76 399.75,152.20 400.00,151.64 400.25,151.11 400.50,150.58 400.75,150.07 401.00,149.57 401.25,149.09 401.50,148.62 401.75,148.16 402.00,147.71 402.25,147.28 402.50,146.86 402.75,146.45 403.00,146.06 403.25,145.68 403.50,145.31 403.75,144.95 404.00,144.61 404.25,144.27 404.50,143.95 404.75,143.64 405.00,143.34 405.25,143.06 405.50,142.78 405.75,142.52 406.00,142.27 406.25,142.03 406.50,141.80 406.75,141.59 407.00,141.38 407.25,141.19 407.50,141.01 407.75,140.84 408.00,140.68 408.25,140.53 408.50,140.39 408.75,140.26 409.00,140.15 409.25,140.04 409.50,139.95 409.75,139.87 410.00,139.80 410.25,139.74 410.50,139.69 410.75,139.65 411.00,139.62 411.25,139.61 411.50,139.60 411.75,139.61 412.00,139.62 412.25,139.65 412.50,139.69 412.75,139.74 413.00,139.80 413.25,139.87 413.50,139.95 413.75,140.04 414.00,140.15 414.25,140.26 414.50,140.39 414.75,140.53 415.00,140.68 415.25,140.84 415.50,141.01 415.75,141.19 416.00,141.38 416.25,141.59 416.50,141.80 416.75,142.03 417.00,142.27 417.25,142.52 417.50,142.78 417.75,143.06 418.00,143.34 418.25,143.64 418.50,143.95 418.75,144.27 419.00,144.61 419.25,144.95 419.50,145.31 419.75,145.68 420.00,146.06 420.25,146.45 420.50,146.86 420.75,147.28 421.00,147.71 421.25,148.16 421.50,148.62 421.75,149.09 422.00,149.57 422.25,150.07 422.50,150.58 422.75,151.11 423.00,151.64 423.25,152.20 423.50,152.76 423.75,153.35 424.00,153.94 424.25,154.55 424.50,155.18 424.75,155.82 425.00,156.47 425.25,157.14 425.50,157.83 425.75,158.53 426.00,159.25 426.25,159.98 426.50,160.74 426.75,161.50 427.00,162.29 427.25,163.09 427.50,163.91 427.75,164.75 428.00,165.61 428.25,166.49 428.50,167.39 428.75,168.30 429.00,169.24 429.25,170.19 429.50,171.17 429.75,172.17 430.00,173.19 430.25,174.23 430.50,175.30 430.75,176.39 431.00,177.50 431.25,178.64 431.50,179.80 431.75,180.99 432.00,182.20 432.25,183.44 432.50,184.71 432.75,186.00 433.00,187.32 433.25,188.67 433.50,190.05 433.75,191.45 434.00,192.87 434.25,194.32 434.50,195.79 434.75,197.27 435.00,198.76 435.25,200.24 435.50,201.71 435.75,203.14 436.00,204.50 436.25,205.74 436.50,206.82 436.75,207.67 437.00,208.21 437.25,208.40 437.50,208.21 437.75,207.67 438.00,206.82 438.25,205.74 438.50,204.50 438.75,203.14 439.00,201.71 439.25,200.24 439.50,198.76 439.75,197.27 440.00,195.79 440.25,194.32 440.50,192.87 440.75,191.45 441.00,190.05 441.25,188.67 441.50,187.32 441.75,186.00 442.00,184.71 442.25,183.44 442.50,182.20 442.75,180.99 443.00,179.80 443.25,178.64 443.50,177.50 443.75,176.39 444.00,175.30 444.25,174.23 444.50,173.19 444.75,172.17 445.00,171.17 445.25,170.19 445.50,169.24 445.75,168.30 446.00,167.39 446.25,166.49 446.50,165.61 446.75,164.75 447.00,163.91 447.25,163.09 447.50,162.29 447.75,161.50 448.00,160.74 448.25,159.98 448.50,159.25 448.75,158.53 449.00,157.83 449.25,157.14 449.50,156.47 449.75,155.82 450.00,155.18 450.25,154.55 450.50,153.94 450.75,153.35 451.00,152.76 451.25,152.20 451.50,151.64 451.75,151.11 452.00,150.58 452.25,150.07 452.50,149.57 452.75,149.09 453.00,148.62 453.25,148.16 453.50,147.71 453.75,147.28 454.00,146.86 454.25,146.45 454.50,146.06 454.75,145.68 455.00,145.31 455.25,144.95 455.50,144.61 455.75,144.27 456.00,143.95 456.25,143.64 456.50,143.34 456.75,143.06 457.00,142.78 457.25,142.52 457.50,142.27 457.75,142.03 458.00,141.80 458.25,141.59 458.50,141.38 458.75,141.19 459.00,141.01 459.25,140.84 459.50,140.68 459.75,140.53 460.00,140.39 460.25,140.26 460.50,140.15 460.75,140.04 461.00,139.95 461.25,139.87 461.50,139.80 461.75,139.74 462.00,139.69 462.25,139.65 462.50,139.62 462.75,139.61 463.00,139.60 463.25,139.61 463.50,139.62 463.75,139.65 464.00,139.69 464.25,139.74 464.50,139.80 464.75,139.87 465.00,139.95 465.25,140.04 465.50,140.15 465.75,140.26 466.00,140.39 466.25,140.53 466.50,140.68 466.75,140.84 467.00,141.01 467.25,141.19 467.50,141.38 467.75,141.59 468.00,141.80 468.25,142.03 468.50,142.27 468.75,142.52 469.00,142.78 469.25,143.06 469.50,143.34 469.75,143.64 470.00,143.95 470.25,144.27 470.50,144.61 470.75,144.95 471.00,145.31 471.25,145.68 471.50,146.06 471.75,146.45 472.00,146.86 472.25,147.28 472.50,147.71 472.75,148.16 473.00,148.62 473.25,149.09 473.50,149.57 473.75,150.07 474.00,150.58 474.25,151.11 474.50,151.64 474.75,152.20 475.00,152.76 475.25,153.35 475.50,153.94 475.75,154.55 476.00,155.18 476.25,155.82 476.50,156.47 476.75,157.14 477.00,157.83 477.25,158.53 477.50,159.25 477.75,159.98 478.00,160.74 478.25,161.50 478.50,162.29 478.75,163.09 479.00,163.91 479.25,164.75 479.50,165.61 479.75,166.49 480.00,167.39 480.25,168.30 480.50,169.24 480.75,170.19 481.00,171.17 481.25,172.17 481.50,173.19 481.75,174.23 482.00,175.30 482.25,176.39 482.50,177.50 482.75,178.64 483.00,179.80 483.25,180.99 483.50,182.20 483.75,183.44 484.00,184.71 484.25,186.00 484.50,187.32 484.75,188.67 485.00,190.05 485.25,191.45 485.50,192.87 485.75,194.32 486.00,195.79 486.25,197.27 486.50,198.76 486.75,200.24 487.00,201.71 487.25,203.14 487.50,204.50 487.75,205.74 488.00,206.82 488.25,207.67 488.50,208.21 488.75,208.40 489.00,208.21 489.25,207.67 489.50,206.82 489.75,205.74 490.00,204.50 490.25,203.14 490.50,201.71 490.75,200.24 491.00,198.76 491.25,197.27 491.50,195.79 491.75,194.32 492.00,192.87 492.25,191.45 492.50,190.05 492.75,188.67 493.00,187.32 493.25,186.00 493.50,184.71 493.75,183.44 494.00,182.20 494.25,180.99 494.50,179.80 494.75,178.64 495.00,177.50 495.25,176.39 495.50,175.30 495.75,174.23 496.00,173.19 496.25,172.17 496.50,171.17 496.75,170.19 497.00,169.24 497.25,168.30 497.50,167.39 497.75,166.49 498.00,165.61 498.25,164.75 498.50,163.91 498.75,163.09 499.00,162.29 499.25,161.50 499.50,160.74 499.75,159.98 500.00,159.25 500.25,158.53 500.50,157.83 500.75,157.14 501.00,156.47 501.25,155.82 501.50,155.18 501.75,154.55 502.00,153.94 502.25,153.35 502.50,152.76 502.75,152.20 503.00,151.64 503.25,151.11 503.50,150.58 503.75,150.07 504.00,149.57 504.25,149.09 504.50,148.62 504.75,148.16 505.00,147.71 505.25,147.28 505.50,146.86 505.75,146.45 506.00,146.06 506.25,145.68 506.50,145.31 506.75,144.95 507.00,144.61 507.25,144.27 507.50,143.95 507.75,143.64 508.00,143.34 508.25,143.06 508.50,142.78 508.75,142.52 509.00,142.27 509.25,142.03 509.50,141.80 509.75,141.59 510.00,141.38 510.25,141.19 510.50,141.01 510.75,140.84 511.00,140.68 511.25,140.53 511.50,140.39 511.75,140.26 512.00,140.15 512.25,140.04 512.50,139.95 512.75,139.87 513.00,139.80 513.25,139.74 513.50,139.69 513.75,139.65 514.00,139.62 514.25,139.61 514.50,139.60 514.75,139.61 515.00,139.62 515.25,139.65 515.50,139.69 515.75,139.74 516.00,139.80 516.25,139.87 516.50,139.95 516.75,140.04 517.00,140.15 517.25,140.26 517.50,140.39 517.75,140.53 518.00,140.68 518.25,140.84 518.50,141.01 518.75,141.19 519.00,141.38 519.25,141.59 519.50,141.80 519.75,142.03 520.00,142.27 520.25,142.52 520.50,142.78 520.75,143.06 521.00,143.34 521.25,143.64 521.50,143.95 521.75,144.27 522.00,144.61 522.25,144.95 522.50,145.31 522.75,145.68 523.00,146.06 523.25,146.45 523.50,146.86 523.75,147.28 524.00,147.71 524.25,148.16 524.50,148.62 524.75,149.09 525.00,149.57 525.25,150.07 525.50,150.58 525.75,151.11 526.00,151.64 526.25,152.20 526.50,152.76 526.75,153.35 527.00,153.94 527.25,154.55 527.50,155.18 527.75,155.82 528.00,156.47 528.25,157.14 528.50,157.83 528.75,158.53 529.00,159.25 529.25,159.98 529.50,160.74 529.75,161.50 530.00,162.29 530.25,163.09 530.50,163.91 530.75,164.75 531.00,165.61 531.25,166.49 531.50,167.39 531.75,168.30 532.00,169.24 532.25,170.19 532.50,171.17 532.75,172.17 533.00,173.19 533.25,174.23 533.50,175.30 533.75,176.39 534.00,177.50 534.25,178.64 534.50,179.80 534.75,180.99 535.00,182.20 535.25,183.44 535.50,184.71 535.75,186.00 536.00,187.32 536.25,188.67 536.50,190.05 536.75,191.45 537.00,192.87 537.25,194.32 537.50,195.79 537.75,197.27 538.00,198.76 538.25,200.24 538.50,201.71 538.75,203.14 539.00,204.50 539.25,205.74 539.50,206.82 539.75,207.67 540.00,208.21 540.25,208.40 540.50,208.21 540.75,207.67 541.00,206.82 541.25,205.74 541.50,204.50 541.75,203.14 542.00,201.71 542.25,200.24 542.50,198.76 542.75,197.27 543.00,195.79 543.25,194.32 543.50,192.87 543.75,191.45 544.00,190.05 544.25,188.67 544.50,187.32 544.75,186.00 545.00,184.71 545.25,183.44 545.50,182.20 545.75,180.99 546.00,179.80 546.25,178.64 546.50,177.50 546.75,176.39 547.00,175.30 547.25,174.23 547.50,173.19 547.75,172.17 548.00,171.17 548.25,170.19 548.50,169.24 548.75,168.30 549.00,167.39 549.25,166.49 549.50,165.61 549.75,164.75 550.00,163.91 550.25,163.09 550.50,162.29 550.75,161.50 551.00,160.74 551.25,159.98 551.50,159.25 551.75,158.53 552.00,157.83 552.25,157.14 552.50,156.47 552.75,155.82 553.00,155.18 553.25,154.55 553.50,153.94 553.75,153.35 554.00,152.76 554.25,152.20 554.50,151.64 554.75,151.11 555.00,150.58 555.25,150.07 555.50,149.57 555.75,149.09 556.00,148.62 556.25,148.16 556.50,147.71 556.75,147.28 557.00,146.86 557.25,146.45 557.50,146.06 557.75,145.68 558.00,145.31 558.25,144.95 558.50,144.61 558.75,144.27 559.00,143.95 559.25,143.64 559.50,143.34 559.75,143.06 560.00,142.78 560.25,142.52 560.50,142.27 560.75,142.03 561.00,141.80 561.25,141.59 561.50,141.38 561.75,141.19 562.00,141.01 562.25,140.84 562.50,140.68 562.75,140.53 563.00,140.39 563.25,140.26 563.50,140.15 563.75,140.04 564.00,139.95 564.25,139.87 564.50,139.80 564.75,139.74 565.00,139.69 565.25,139.65 565.50,139.62 565.75,139.61 566.00,139.60 566.25,139.61 566.50,139.62 566.75,139.65 567.00,139.69 567.25,139.74 567.50,139.80 567.75,139.87 568.00,139.95 568.25,140.04 568.50,140.15 568.75,140.26 569.00,140.39 569.25,140.53 569.50,140.68 569.75,140.84 570.00,141.01 570.25,141.19 570.50,141.38 570.75,141.59 571.00,141.80 571.25,142.03 571.50,142.27 571.75,142.52 572.00,142.78 572.25,143.06 572.50,143.34 572.75,143.64 573.00,143.95 573.25,144.27 573.50,144.61 573.75,144.95 574.00,145.31 574.25,145.68 574.50,146.06 574.75,146.45 575.00,146.86 575.25,147.28 575.50,147.71 575.75,148.16 576.00,148.62 576.25,149.09 576.50,149.57 576.75,150.07 577.00,150.58 577.25,151.11 577.50,151.64 577.75,152.20 578.00,152.76 578.25,153.35 578.50,153.94 578.75,154.55 579.00,155.18 579.25,155.82 579.50,156.47 579.75,157.14 580.00,157.83 580.25,158.53 580.50,159.25 580.75,159.98 581.00,160.74 581.25,161.50 581.50,162.29 581.75,163.09 582.00,163.91 582.25,164.75 582.50,165.61 582.75,166.49 583.00,167.39 583.25,168.30 583.50,169.24 583.75,170.19 584.00,171.17 584.25,172.17 584.50,173.19 584.75,174.23 585.00,175.30 585.25,176.39 585.50,177.50 585.75,178.64 586.00,179.80 586.25,180.99 586.50,182.20 586.75,183.44 587.00,184.71 587.25,186.00 587.50,187.32 587.75,188.67 588.00,190.05 588.25,191.45 588.50,192.87 588.75,194.32 589.00,195.79 589.25,197.27 589.50,198.76 589.75,200.24 590.00,201.71 590.25,203.14 590.50,204.50 590.75,205.74 591.00,206.82 591.25,207.67 591.50,208.21 591.75,208.40 592.00,208.21 592.25,207.67 592.50,206.82 592.75,205.74 593.00,204.50 593.25,203.14 593.50,201.71 593.75,200.24 594.00,198.76 594.25,197.27 594.50,195.79 594.75,194.32 595.00,192.87 595.25,191.45 595.50,190.05 595.75,188.67 596.00,187.32 596.25,186.00 596.50,184.71 596.75,183.44 597.00,182.20 597.25,180.99 597.50,179.80 597.75,178.64 598.00,177.50 598.25,176.39 598.50,175.30 598.75,174.23 599.00,173.19 599.25,172.17 599.50,171.17 599.75,170.19 600.00,169.24 600.25,168.30 600.50,167.39 600.75,166.49 601.00,165.61 601.25,164.75 601.50,163.91 601.75,163.09 602.00,162.29 602.25,161.50 602.50,160.74 602.75,159.98 603.00,159.25 603.25,158.53 603.50,157.83 603.75,157.14 604.00,156.47 604.25,155.82 604.50,155.18 604.75,154.55 605.00,153.94 605.25,153.35 605.50,152.76 605.75,152.20 606.00,151.64 606.25,151.11 606.50,150.58 606.75,150.07 607.00,149.57 607.25,149.09 607.50,148.62 607.75,148.16 608.00,147.71 608.25,147.28 608.50,146.86 608.75,146.45 609.00,146.06 609.25,145.68 609.50,145.31 609.75,144.95 610.00,144.61 610.25,144.27 610.50,143.95 610.75,143.64 611.00,143.34 611.25,143.06 611.50,142.78 611.75,142.52 612.00,142.27 612.25,142.03 612.50,141.80 612.75,141.59 613.00,141.38 613.25,141.19 613.50,141.01 613.75,140.84 614.00,140.68 614.25,140.53 614.50,140.39 614.75,140.26 615.00,140.15 615.25,140.04 615.50,139.95 615.75,139.87 616.00,139.80 616.25,139.74 616.50,139.69 616.75,139.65 617.00,139.62 617.25,139.61 617.50,139.60 617.75,139.61 618.00,139.62 618.25,139.65 618.50,139.69 618.75,139.74 619.00,139.80 619.25,139.87 619.50,139.95 619.75,140.04 620.00,140.15 620.25,140.26 620.50,140.39 620.75,140.53 621.00,140.68 621.25,140.84 621.50,141.01 621.75,141.19 622.00,141.38 622.25,141.59 622.50,141.80 622.75,142.03 623.00,142.27 623.25,142.52 623.50,142.78 623.75,143.06 624.00,143.34 624.25,143.64 624.50,143.95 624.75,144.27 625.00,144.61 625.25,144.95 625.50,145.31 625.75,145.68 626.00,146.06 626.25,146.45 626.50,146.86 626.75,147.28 627.00,147.71 627.25,148.16 627.50,148.62 627.75,149.09 628.00,149.57 628.25,150.07 628.50,150.58 628.75,151.11 629.00,151.64 629.25,152.20 629.50,152.76 629.75,153.35 630.00,153.94 630.25,154.55 630.50,155.18 630.75,155.82 631.00,156.47 631.25,157.14 631.50,157.83 631.75,158.53 632.00,159.25 632.25,159.98 632.50,160.74 632.75,161.50 633.00,162.29 633.25,163.09 633.50,163.91 633.75,164.75 634.00,165.61 634.25,166.49 634.50,167.39 634.75,168.30 635.00,169.24 635.25,170.19 635.50,171.17 635.75,172.17 636.00,173.19 636.25,174.23 636.50,175.30 636.75,176.39 637.00,177.50 637.25,178.64 637.50,179.80 637.75,180.99 638.00,182.20 638.25,183.44 638.50,184.71 638.75,186.00 639.00,187.32 639.25,188.67 639.50,190.05 639.75,191.45 640.00,192.87 640.25,194.32 640.50,195.79 640.75,197.27 641.00,198.76 641.25,200.24 641.50,201.71 641.75,203.14 642.00,204.50 642.25,205.74 642.50,206.82"/>
</g>
<g stroke="#000" stroke-width="0.15">
<text x="749.5" y="29" font-size="13" fill="#fcff00" text-anchor="end" textLength="32.2" lengthAdjust="spacingAndGlyphs">HETG</text>
<text x="749.5" y="41.8" font-size="13.4" fill="#00ffff" text-anchor="end" textLength="29.2" lengthAdjust="spacingAndGlyphs">LETG</text>
<text y="92" font-size="13" fill="#2200ff" text-anchor="start"><tspan x="706.6" textLength="28.6" lengthAdjust="spacingAndGlyphs">ACIS</tspan><tspan x="735.37" dy="-0.3" textLength="12.27" lengthAdjust="spacingAndGlyphs">-</tspan><tspan x="746.75" dy="0.3" textLength="3.61" lengthAdjust="spacingAndGlyphs">I</tspan></text>
<text y="104.3" font-size="13" fill="#fcff00" text-anchor="start"><tspan x="701.6" textLength="28.8" lengthAdjust="spacingAndGlyphs">ACIS</tspan><tspan x="730.37" dy="-0.3" textLength="12.27" lengthAdjust="spacingAndGlyphs">-</tspan><tspan x="742.2" dy="0.3" textLength="7.7" lengthAdjust="spacingAndGlyphs">S</tspan></text>
<text y="116.6" font-size="13" fill="#00ffff" text-anchor="start"><tspan x="709.3" textLength="26.5" lengthAdjust="spacingAndGlyphs">HRC</tspan><tspan x="735.37" dy="-0.3" textLength="12.27" lengthAdjust="spacingAndGlyphs">-</tspan><tspan x="746.75" dy="0.3" textLength="3.61" lengthAdjust="spacingAndGlyphs">I</tspan></text>
<text y="129" font-size="13" fill="#10ff00" text-anchor="start"><tspan x="704.3" textLength="26.3" lengthAdjust="spacingAndGlyphs">HRC</tspan><tspan x="730.37" dy="-0.3" textLength="12.27" lengthAdjust="spacingAndGlyphs">-</tspan><tspan x="742.2" dy="0.3" textLength="7.7" lengthAdjust="spacingAndGlyphs">S</tspan></text>
<text x="749.5" y="176" font-size="13" fill="#fcff00" text-anchor="end" textLength="18.2" lengthAdjust="spacingAndGlyphs">CTI</text>
<text x="749.5" y="188.3" font-size="13" fill="#00ffff" text-anchor="end" textLength="58.2" lengthAdjust="spacingAndGlyphs">ALTITUDE</text>
<text x="749.5" y="218" font-size="13" fill="#10ff00" text-anchor="end" textLength="69.2" lengthAdjust="spacingAndGlyphs">Solar Wind</text>
<text x="749.5" y="230.5" font-size="13" fill="#00ffff" text-anchor="end" textLength="97.2" lengthAdjust="spacingAndGlyphs">Magnetosheath</text>
<text x="749.5" y="243.3" font-size="13" fill="#fcff00" text-anchor="end" textLength="97.2" lengthAdjust="spacingAndGlyphs">Magnetosphere</text>
<text x="749.5" y="281" font-size="13" fill="#ff7800" text-anchor="end" textLength="53.2" lengthAdjust="spacingAndGlyphs">RADMON</text>
<text x="749.5" y="293.5" font-size="13" fill="#ff7800" text-anchor="end" textLength="60.2" lengthAdjust="spacingAndGlyphs">DISABLED</text>
<text x="749.5" y="306.5" font-size="13" fill="#ff2400" text-anchor="end" textLength="41.2" lengthAdjust="spacingAndGlyphs">SCA00</text>
<text x="749.5" y="318.5" font-size="13" fill="#ff2400" text-anchor="end" textLength="22.2" lengthAdjust="spacingAndGlyphs">SAT</text>
<text x="749.5" y="348.5" font-size="13" fill="#00ffff" text-anchor="end" textLength="32.2" lengthAdjust="spacingAndGlyphs">FMT1</text>
<text x="749.5" y="361" font-size="13" fill="#10ff00" text-anchor="end" textLength="32.2" lengthAdjust="spacingAndGlyphs">FMT2</text>
<text x="749.5" y="373.5" font-size="13" fill="#ff7800" text-anchor="end" textLength="32.2" lengthAdjust="spacingAndGlyphs">FMT3</text>
<text x="749.5" y="386" font-size="13" fill="#fcff00" text-anchor="end" textLength="32.2" lengthAdjust="spacingAndGlyphs">FMT4</text>
<text x="749.5" y="398.5" font-size="13" fill="#ff2400" text-anchor="end" textLength="32.2" lengthAdjust="spacingAndGlyphs">FMT5</text>
<text x="58" y="397" font-size="13" fill="#ffffff" text-anchor="middle" textLength="21.3" lengthAdjust="spacingAndGlyphs">335</text>
<text x="174" y="397" font-size="13" fill="#ffffff" text-anchor="middle" textLength="21.3" lengthAdjust="spacingAndGlyphs">341</text>
<text x="291" y="397" font-size="13" fill="#ffffff" text-anchor="middle" textLength="21.3" lengthAdjust="spacingAndGlyphs">347</text>
<text x="408" y="397" font-size="13" fill="#ffffff" text-anchor="middle" textLength="21.3" lengthAdjust="spacingAndGlyphs">353</text>
<text x="525" y="397" font-size="13" fill="#ffffff" text-anchor="middle" textLength="21.3" lengthAdjust="spacingAndGlyphs">359</text>
<text x="642" y="397" font-size="13" fill="#ffffff" text-anchor="middle" textLength="21.3" lengthAdjust="spacingAndGlyphs">365</text>
<text x="350" y="411" font-size="13" fill="#ffffff" text-anchor="middle" textLength="64.7" lengthAdjust="spacingAndGlyphs">time (DOY)</text>
<text x="58.2" y="419.2" font-size="16" fill="#ffffff" text-anchor="start" textLength="39.8" lengthAdjust="spacingAndGlyphs">2017</text>
<text y="419" font-size="14" fill="#ffffff" text-anchor="start"><tspan x="502.2" textLength="59.0" lengthAdjust="spacingAndGlyphs">Updated:</tspan> <tspan x="567.4" textLength="25.0" lengthAdjust="spacingAndGlyphs">Mon</tspan> <tspan x="599.4" textLength="21.8" lengthAdjust="spacingAndGlyphs">Jan</tspan> <tspan x="635.9" textLength="7.79" lengthAdjust="spacingAndGlyphs">1</tspan> <tspan x="650.8" textLength="58.4" lengthAdjust="spacingAndGlyphs">02:50:58</tspan> <tspan x="717.5" textLength="32.3" lengthAdjust="spacingAndGlyphs">2018</tspan></text>
</g>
</svg>
</body></html>
